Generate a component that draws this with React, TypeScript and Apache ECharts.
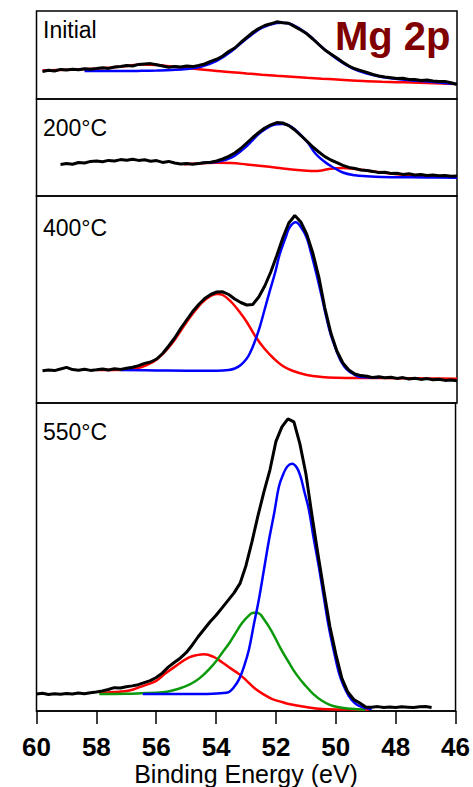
import React, { useEffect, useRef } from "react";
import * as echarts from "echarts";

// ---------- data ----------
const X_MIN = 46;
const X_MAX = 60;
const X_INTERVAL = 2;
const AXIS_TITLE = "Binding Energy (eV)";
const ELEMENT_TITLE = "Mg 2p";
const PANEL_LABELS = ["Initial", "200°C", "400°C", "550°C"];
const PANEL_YMAX = [88, 97, 207, 309]; // arbitrary intensity units per panel
const RAW_STEP = 0.2; // eV spacing of the raw spectra samples

// raw spectra (black), starting energy + values every RAW_STEP eV (descending)
const P1_RAW_START = 59.8;
const P1_RAW = [
  27.5, 28.8, 28.0, 29.6, 28.9, 29.8, 29.2, 30.3, 29.7, 30.4,
  31.2, 30.6, 32.0, 32.6, 33.4, 33.0, 34.6, 35.0, 35.4, 34.2,
  33.0, 31.8, 32.6, 31.9, 33.0, 32.4, 33.6, 35.0, 37.6, 39.8,
  43.0, 47.5, 51.0, 56.5, 61.5, 66.5, 70.5, 73.5, 75.2, 77.2,
  76.3, 75.8, 72.4, 69.0, 65.2, 60.0, 54.5, 49.0, 45.0, 41.0,
  36.8, 33.0, 30.2, 28.4, 26.6, 24.5, 23.0, 22.0, 21.2, 20.4,
  20.8, 19.6, 19.4, 18.6, 18.9, 18.0, 17.4, 17.6, 16.2, 14.5,
];
const P2_RAW_START = 59.2;
const P2_RAW = [
  31.5, 32.4, 31.8, 33.5, 33.0, 34.6, 35.0, 34.2, 35.6, 35.0,
  36.4, 35.8, 36.8, 35.6, 36.2, 34.8, 35.4, 33.6, 34.6, 33.0,
  32.0, 32.4, 31.8, 32.6, 33.2, 33.8, 35.0, 37.0, 39.6, 43.0,
  47.5, 53.0, 58.5, 63.5, 68.0, 71.2, 73.4, 73.0, 70.4, 66.0,
  60.5, 55.0, 49.0, 44.0, 39.4, 36.0, 33.4, 30.6, 28.6, 27.6,
  26.0, 25.4, 24.6, 23.4, 23.8, 22.6, 22.8, 21.6, 22.2, 21.0,
  21.4, 20.6, 20.9, 20.2, 20.6, 19.8, 20.0,
];
const P3_RAW_START = 59.8;
const P3_RAW = [
  32.2, 33.0, 32.4, 34.0, 35.6, 33.4, 32.8, 33.8, 32.6, 33.2,
  34.0, 33.0, 34.2, 33.6, 34.8, 35.8, 37.4, 39.6, 41.0, 44.0,
  49.5, 57.0, 65.0, 74.5, 83.0, 91.5, 98.5, 104.5, 108.5, 111.0,
  111.2, 108.5, 104.0, 100.5, 98.0, 98.5, 106.0, 117.0, 131.0, 147.5,
  165.0, 180.0, 187.5, 181.0, 168.5, 150.0, 126.0, 95.0, 70.0, 52.0,
  40.0, 33.0, 29.0, 27.4, 26.8, 25.4, 26.2, 25.2, 25.8, 24.6,
  25.4, 24.0, 24.8, 23.6, 24.4, 23.2, 23.8, 22.6, 23.0, 22.2,
];
const P4_RAW_START = 60.0;
const P4_RAW = [
  17.0, 17.8, 16.6, 17.4, 16.8, 17.6, 17.0, 18.0, 17.4, 18.4,
  19.0, 20.2, 21.6, 23.4, 23.0, 24.4, 25.2, 26.4, 28.4, 30.4,
  33.6, 38.0, 44.0, 48.6, 53.0, 58.5, 66.0, 74.5, 82.0, 89.5,
  96.0, 103.5, 111.0, 118.5, 128.0, 146.0, 170.0, 196.0, 220.0, 242.0,
  270.5, 285.0, 293.0, 290.0, 268.0, 238.0, 197.0, 158.0, 121.0, 85.0,
  57.0, 33.0, 19.0, 11.5, 8.0, 4.0, 3.8, 4.4, 3.6, 4.0,
  3.4, 4.2, 3.8, 3.4, 4.2, 4.6, 3.6,
];

// fitted components: [energy, intensity]
const P1_RED = [
  [59.8, 28.5], [59.0, 29.3], [58.0, 30.3], [57.5, 31.5], [57.0, 33.0], [56.5, 34.5],
  [56.0, 34.0], [55.5, 32.5], [55.0, 31.0], [54.5, 29.5], [54.0, 28.0], [53.5, 26.8],
  [53.0, 25.5], [52.5, 24.3], [52.0, 23.2], [51.5, 22.2], [51.0, 21.2], [50.5, 20.3],
  [50.0, 19.5], [49.5, 18.5], [49.0, 17.8], [48.5, 17.2], [48.0, 16.8], [47.5, 16.5],
  [47.0, 16.0], [46.5, 15.5], [46.0, 15.0],
];
const P1_BLUE = [
  [58.4, 28.0], [57.5, 28.0], [57.0, 28.0], [56.5, 28.2], [56.0, 28.5], [55.5, 29.0],
  [55.0, 30.0], [54.5, 32.5], [54.0, 38.0], [53.5, 48.0], [53.0, 60.5], [52.5, 71.0],
  [52.0, 76.0], [51.8, 76.3], [51.5, 74.5], [51.0, 65.5], [50.5, 52.0], [50.0, 40.0],
  [49.5, 31.0], [49.0, 25.5], [48.5, 22.0], [48.0, 20.0], [47.5, 18.5], [47.0, 17.5],
  [46.5, 16.2], [46.0, 15.0],
];
const P2_RED = [
  [55.1, 31.7], [54.5, 32.8], [54.0, 33.3], [53.5, 33.0], [53.0, 31.5], [52.5, 30.0],
  [52.0, 28.3], [51.5, 26.5], [51.0, 25.3], [50.8, 25.0], [50.5, 25.6], [50.2, 27.3],
  [49.8, 28.0], [49.4, 27.0], [49.0, 25.5], [48.5, 23.5], [48.0, 21.8], [47.5, 20.5],
  [47.0, 19.8], [46.0, 19.0],
];
const P2_BLUE = [
  [54.5, 33.3], [54.0, 34.0], [53.5, 38.5], [53.0, 50.0], [52.5, 64.5], [52.0, 71.8],
  [51.8, 72.0], [51.5, 69.0], [51.0, 54.5], [50.7, 42.0], [50.4, 34.0], [50.2, 30.0],
  [49.8, 23.5], [49.4, 20.8], [49.0, 19.8], [48.5, 19.0], [48.0, 18.8], [47.0, 18.5],
  [46.0, 18.3],
];
const P3_RED = [
  [58.0, 33.0], [57.0, 33.2], [56.5, 36.0], [56.0, 43.5], [55.5, 59.0], [55.0, 81.0],
  [54.5, 100.0], [54.2, 107.0], [54.0, 109.0], [53.8, 108.0], [53.5, 100.5], [53.2, 89.5],
  [53.0, 81.0], [52.7, 66.0], [52.4, 54.0], [52.1, 44.5], [51.8, 37.0], [51.5, 32.5],
  [51.0, 28.0], [50.5, 26.0], [50.0, 25.3], [49.0, 25.0], [48.0, 24.8], [47.0, 24.5],
  [46.0, 24.3],
];
const P3_BLUE = [
  [57.2, 33.0], [56.0, 32.6], [55.0, 32.3], [54.0, 32.3], [53.6, 33.0], [53.4, 34.5],
  [53.2, 38.0], [53.0, 44.5], [52.9, 49.5], [52.75, 60.0], [52.57, 75.7], [52.4, 94.0],
  [52.23, 112.3], [52.05, 131.0], [51.9, 149.0], [51.7, 166.0], [51.57, 175.7],
  [51.37, 180.7], [51.2, 176.0], [51.01, 165.7], [50.85, 149.0], [50.68, 129.0],
  [50.5, 106.0], [50.35, 85.7], [50.2, 68.0], [50.01, 52.0], [49.85, 41.0], [49.68, 34.0],
  [49.45, 29.0], [49.24, 26.3], [48.9, 25.6], [48.6, 25.5],
];
const P4_RED = [
  [57.9, 18.0], [57.4, 19.0], [56.9, 20.5], [56.5, 24.5], [56.0, 30.3], [55.7, 37.5],
  [55.34, 45.3], [54.9, 53.7], [54.6, 56.3], [54.4, 57.0], [54.1, 54.5], [53.79, 48.7],
  [53.5, 42.5], [53.23, 37.0], [53.0, 31.0], [52.68, 22.0], [52.4, 16.5], [52.12, 12.0],
  [51.8, 9.0], [51.57, 7.0], [51.0, 4.0], [50.46, 2.0], [49.8, 1.5], [49.24, 1.3],
  [48.9, 1.2],
];
const P4_GREEN = [
  [57.9, 17.0], [57.0, 17.3], [56.5, 17.8], [55.78, 18.7], [55.4, 21.0], [55.12, 23.7],
  [54.9, 26.5], [54.67, 30.3], [54.45, 35.5], [54.23, 42.0], [54.0, 50.0], [53.79, 58.7],
  [53.55, 68.5], [53.34, 78.7], [53.15, 87.5], [52.95, 94.5], [52.75, 98.5], [52.6, 98.3],
  [52.4, 92.0], [52.12, 78.7], [51.85, 63.0], [51.57, 48.7], [51.3, 36.0], [51.01, 25.3],
  [50.75, 17.0], [50.46, 10.3], [50.2, 6.2], [49.9, 3.7], [49.5, 2.2], [49.01, 1.3],
];
const P4_BLUE = [
  [56.45, 17.0], [55.5, 17.0], [54.5, 17.0], [54.12, 17.2], [53.85, 17.8], [53.56, 19.3],
  [53.4, 24.0], [53.23, 32.0], [53.06, 45.3], [52.9, 62.0], [52.75, 85.0], [52.57, 112.0],
  [52.4, 142.0], [52.23, 172.0], [52.05, 200.0], [51.9, 225.3], [51.75, 238.0],
  [51.62, 245.3], [51.46, 248.0], [51.3, 244.0], [51.18, 235.3], [51.05, 220.0],
  [50.9, 202.0], [50.75, 175.0], [50.57, 145.3], [50.4, 114.0], [50.24, 85.3],
  [50.05, 58.0], [49.9, 38.7], [49.75, 26.0], [49.57, 15.3], [49.4, 9.0], [49.24, 5.3],
  [49.0, 3.0], [48.8, 2.0],
];

const rawPairs = (start: number, vals: number[]) =>
  vals.map((v, i) => [Math.round((start - i * RAW_STEP) * 100) / 100, v]);

const PANELS = [
  { raw: rawPairs(P1_RAW_START, P1_RAW), red: P1_RED, green: null as any, blue: P1_BLUE },
  { raw: rawPairs(P2_RAW_START, P2_RAW), red: P2_RED, green: null as any, blue: P2_BLUE },
  { raw: rawPairs(P3_RAW_START, P3_RAW), red: P3_RED, green: null as any, blue: P3_BLUE },
  { raw: rawPairs(P4_RAW_START, P4_RAW), red: P4_RED, green: P4_GREEN, blue: P4_BLUE },
];

// ---------- layout ----------
const FONT = "'Liberation Sans', Arial, sans-serif";
const GRID_LEFT = 36.5;
const GRID_WIDTH = 420.5;
const GRID_TOPS = [11, 99, 196, 403];
const LABEL_Y = [29.5, 127.5, 228, 432];

export default function App() {
  const ref = useRef<HTMLDivElement>(null);

  useEffect(() => {
    document.body.style.margin = "0";
    if (!ref.current) return;
    const chart = echarts.init(ref.current, undefined, { renderer: "svg" });

    const grids = PANEL_YMAX.map((h, i) => ({
      left: GRID_LEFT,
      top: GRID_TOPS[i],
      width: GRID_WIDTH,
      height: h,
      show: true,
      borderColor: "#000",
      borderWidth: 1.5,
      backgroundColor: "transparent",
    }));

    const xAxes = PANEL_YMAX.map((_, i) => {
      const last = i === PANEL_YMAX.length - 1;
      return {
        gridIndex: i,
        type: "value",
        min: X_MIN,
        max: X_MAX,
        interval: X_INTERVAL,
        inverse: true,
        splitLine: { show: false },
        axisLine: { show: last, onZero: false, lineStyle: { color: "#000", width: 1.5 } },
        axisTick: { show: last, length: 13, inside: false, lineStyle: { color: "#000", width: 1.5 } },
        axisLabel: {
          show: last,
          margin: 23,
          fontSize: 26,
          lineHeight: 26,
          fontWeight: "bold",
          color: "#000",
          fontFamily: FONT,
        },
        name: last ? AXIS_TITLE : "",
        nameLocation: "middle",
        nameGap: 50,
        nameTextStyle: { fontSize: 25, lineHeight: 25, color: "#000", fontFamily: FONT },
      };
    });

    const yAxes = PANEL_YMAX.map((h, i) => ({
      gridIndex: i,
      type: "value",
      min: 0,
      max: h,
      show: false,
    }));

    const series: any[] = [];
    PANELS.forEach((p, i) => {
      const base = {
        type: "line",
        xAxisIndex: i,
        yAxisIndex: i,
        showSymbol: false,
        symbol: "none",
        silent: true,
      };
      series.push({ ...base, data: p.red, smooth: 0.4, lineStyle: { color: "#ff0000", width: 2.5 } });
      if (p.green)
        series.push({ ...base, data: p.green, smooth: 0.4, lineStyle: { color: "#0c9a0c", width: 2.5 } });
      series.push({ ...base, data: p.blue, smooth: 0.4, lineStyle: { color: "#0000ff", width: 2.5 } });
      series.push({ ...base, data: p.raw, smooth: false, lineStyle: { color: "#000", width: 3 } });
    });

    const graphic: any[] = PANEL_LABELS.map((t, i) => ({
      type: "text",
      x: 43,
      y: LABEL_Y[i],
      style: {
        text: t,
        fontSize: 23,
        fontFamily: FONT,
        fill: "#000",
        align: "left",
        verticalAlign: "middle",
      },
    }));
    graphic.push({
      type: "text",
      x: 335,
      y: 35.5,
      style: {
        text: ELEMENT_TITLE,
        fontSize: 40,
        fontWeight: "bold",
        fontFamily: FONT,
        fill: "#800000",
        align: "left",
        verticalAlign: "middle",
      },
    });

    chart.setOption({
      animation: false,
      backgroundColor: "#fff",
      grid: grids,
      xAxis: xAxes,
      yAxis: yAxes,
      series,
      graphic,
    });

    return () => chart.dispose();
  }, []);

  return <div ref={ref} style={{ width: 473, height: 787 }} />;
}
